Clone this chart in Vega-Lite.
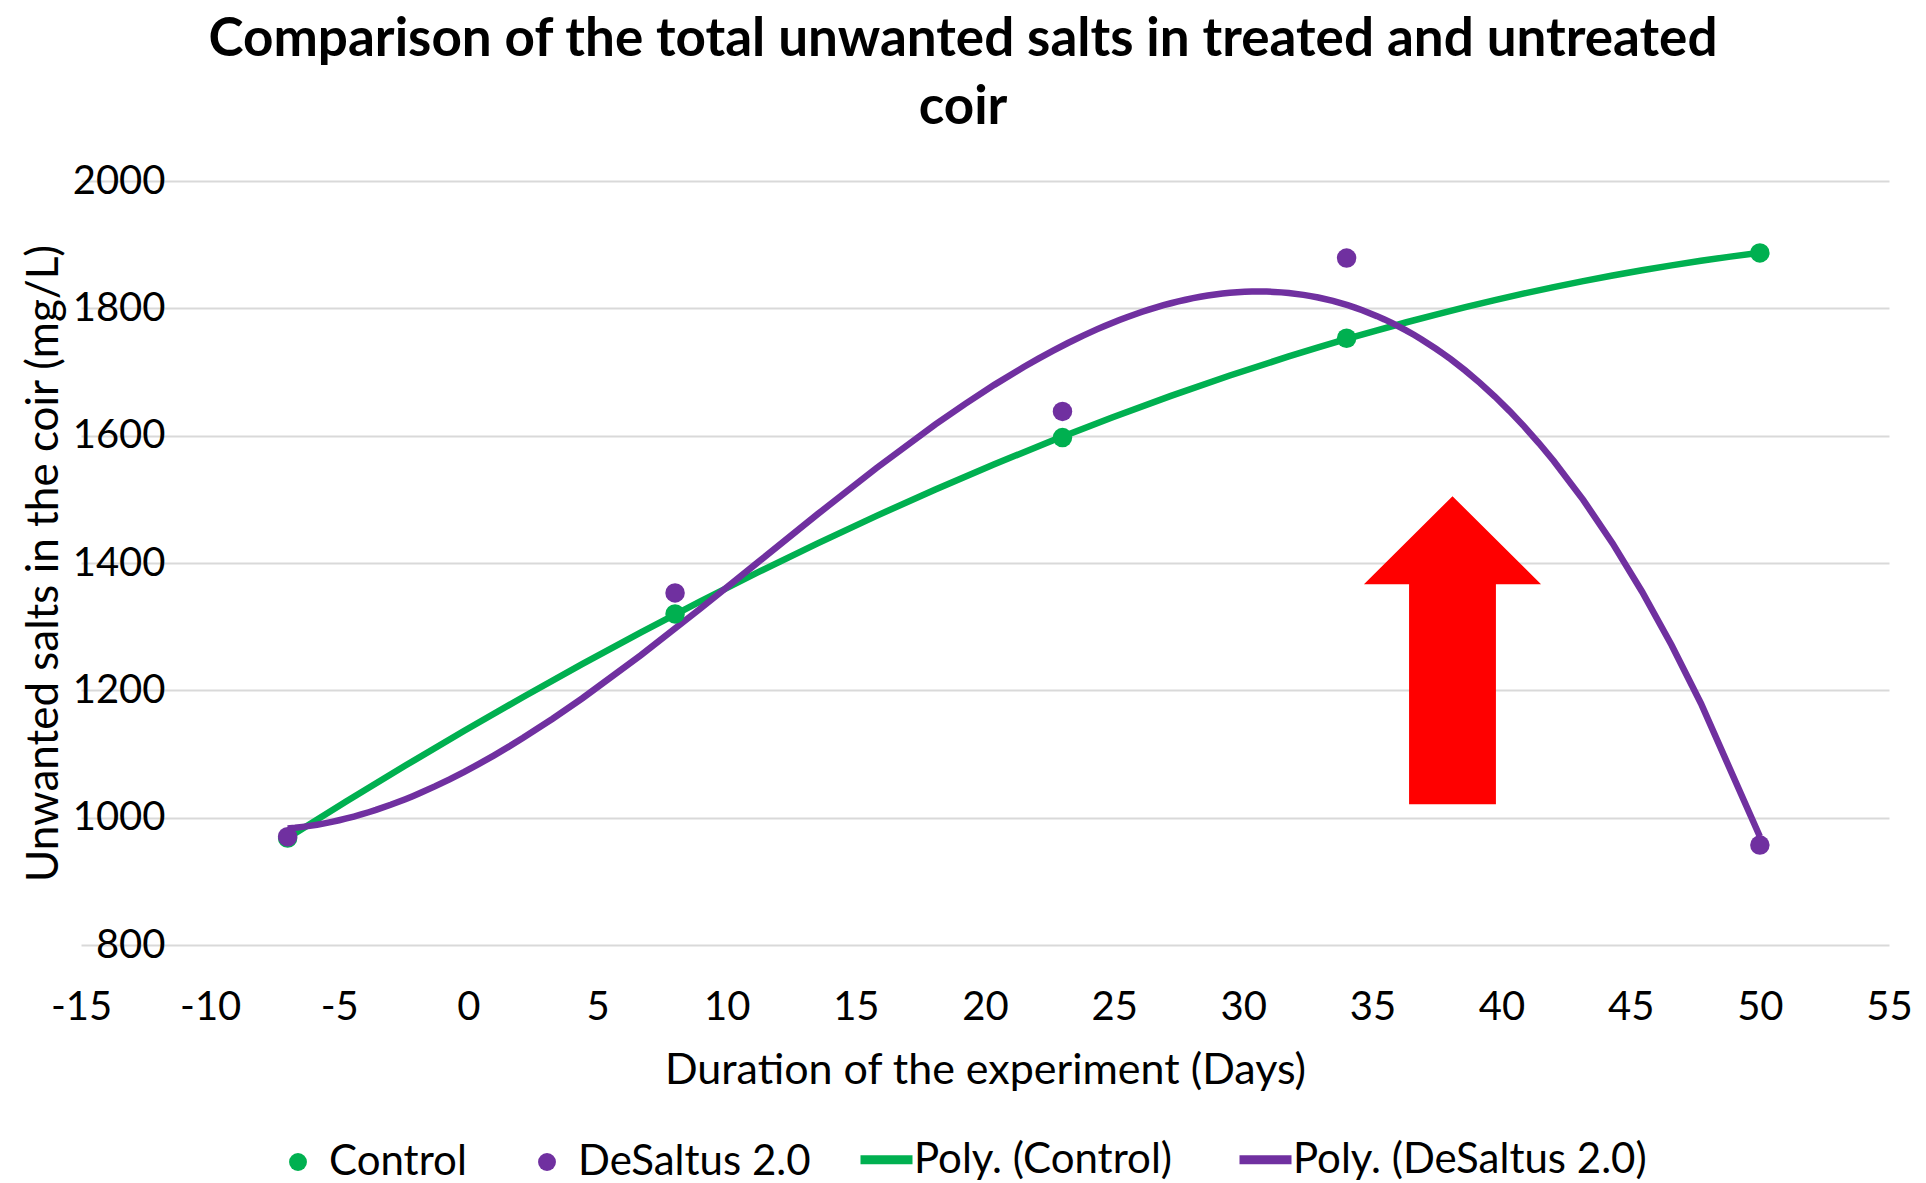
{
  "$schema": "https://vega.github.io/schema/vega-lite/v6.json",
  "width": 1808,
  "height": 764,
  "autosize": "none",
  "padding": {"left": 81, "top": 181, "right": 37, "bottom": 238},
  "background": "white",
  "title": {
    "text": ["Comparison of the total unwanted salts in treated and untreated", "coir"],
    "font": "Lato",
    "fontWeight": "bold",
    "fontSize": 53,
    "lineHeight": 68,
    "color": "#000000",
    "anchor": "middle",
    "dx": -22,
    "offset": 26
  },
  "datasets": {
    "salts": [
      {"day": -7, "salts": 968, "series": "Control", "trend": "Poly. (Control)"},
      {"day": 8, "salts": 1320, "series": "Control", "trend": "Poly. (Control)"},
      {"day": 23, "salts": 1597, "series": "Control", "trend": "Poly. (Control)"},
      {"day": 34, "salts": 1753, "series": "Control", "trend": "Poly. (Control)"},
      {"day": 50, "salts": 1887, "series": "Control", "trend": "Poly. (Control)"},
      {"day": -7, "salts": 970, "series": "DeSaltus 2.0", "trend": "Poly. (DeSaltus 2.0)"},
      {"day": 8, "salts": 1353, "series": "DeSaltus 2.0", "trend": "Poly. (DeSaltus 2.0)"},
      {"day": 23, "salts": 1638, "series": "DeSaltus 2.0", "trend": "Poly. (DeSaltus 2.0)"},
      {"day": 34, "salts": 1879, "series": "DeSaltus 2.0", "trend": "Poly. (DeSaltus 2.0)"},
      {"day": 50, "salts": 957, "series": "DeSaltus 2.0", "trend": "Poly. (DeSaltus 2.0)"}
    ],
    "arrow": [
      {"label": "arrow", "day": 38.1, "salts": 1263}
    ]
  },
  "layer": [
    {
      "data": {"name": "salts"},
      "transform": [
        {"regression": "salts", "on": "day", "groupby": ["trend"], "method": "poly", "order": 3, "extent": [-7, 50]}
      ],
      "mark": {"type": "line", "strokeWidth": 6.5},
      "encoding": {
        "x": {
          "field": "day", "type": "quantitative",
          "title": "Duration of the experiment (Days)",
          "scale": {"domain": [-15, 55], "nice": false, "zero": false},
          "axis": {"values": [-15, -10, -5, 0, 5, 10, 15, 20, 25, 30, 35, 40, 45, 50, 55], "labelExpr": "datum.value < 0 ? '-' + abs(datum.value) : '' + datum.value", "labelPadding": 42, "grid": false, "titlePadding": 22, "titleFontSize": 43, "labelFlush": false, "labelOverlap": false}
        },
        "y": {
          "field": "salts", "type": "quantitative",
          "title": "Unwanted salts  in the coir (mg/L)",
          "scale": {"domain": [800, 2000], "nice": false, "zero": false},
          "axis": {"values": [800, 1000, 1200, 1400, 1600, 1800, 2000], "labelExpr": "'' + datum.value", "labelPadding": -84, "labelAlign": "right", "labelBaseline": "middle", "titlePadding": 6, "titleFontSize": 44, "grid": true, "labelOverlap": false}
        },
        "stroke": {
          "field": "trend", "type": "nominal",
          "scale": {"domain": ["Poly. (Control)", "Poly. (DeSaltus 2.0)"], "range": ["#00B050", "#7030A0"]},
          "legend": {
            "title": null, "orient": "none", "legendX": 775, "legendY": 948, "direction": "horizontal",
            "symbolType": "stroke", "symbolSize": 2704, "symbolStrokeWidth": 9,
            "labelFont": "Lato", "labelFontSize": 42, "labelColor": "#000000", "labelOffset": -3, "labelLimit": 0, "columnPadding": 48
          }
        }
      }
    },
    {
      "data": {"name": "salts"},
      "mark": {"type": "point", "filled": true, "size": 380, "opacity": 1, "strokeWidth": 0},
      "encoding": {
        "x": {"field": "day", "type": "quantitative", "title": "Duration of the experiment (Days)"},
        "y": {"field": "salts", "type": "quantitative", "title": "Unwanted salts  in the coir (mg/L)"},
        "fill": {
          "field": "series", "type": "nominal",
          "scale": {"domain": ["Control", "DeSaltus 2.0"], "range": ["#00B050", "#7030A0"]},
          "legend": {
            "title": null, "orient": "none", "legendX": 196, "legendY": 960, "direction": "horizontal",
            "symbolType": "circle", "symbolSize": 320, "symbolStrokeWidth": 0,
            "labelFont": "Lato", "labelFontSize": 42, "labelColor": "#000000", "labelOffset": 10, "labelLimit": 0, "columnPadding": 59
          }
        }
      }
    },
    {
      "data": {"name": "arrow"},
      "mark": {
        "type": "point",
        "shape": "M0,-1L0.575,-0.429L0.282,-0.429L0.282,1L-0.282,1L-0.282,-0.429L-0.575,-0.429Z",
        "size": 94864,
        "filled": true,
        "color": "#FF0000",
        "opacity": 1
      },
      "encoding": {
        "x": {"field": "day", "type": "quantitative", "title": "Duration of the experiment (Days)"},
        "y": {"field": "salts", "type": "quantitative", "title": "Unwanted salts  in the coir (mg/L)"}
      }
    }
  ],
  "config": {
    "view": {"stroke": null},
    "axis": {
      "labelFont": "Lato", "titleFont": "Lato", "labelFontSize": 40, "titleFontSize": 40,
      "labelColor": "#000000", "titleColor": "#000000", "titleFontWeight": "normal",
      "gridColor": "#D9D9D9", "gridWidth": 2, "domain": false, "ticks": false
    }
  }
}
